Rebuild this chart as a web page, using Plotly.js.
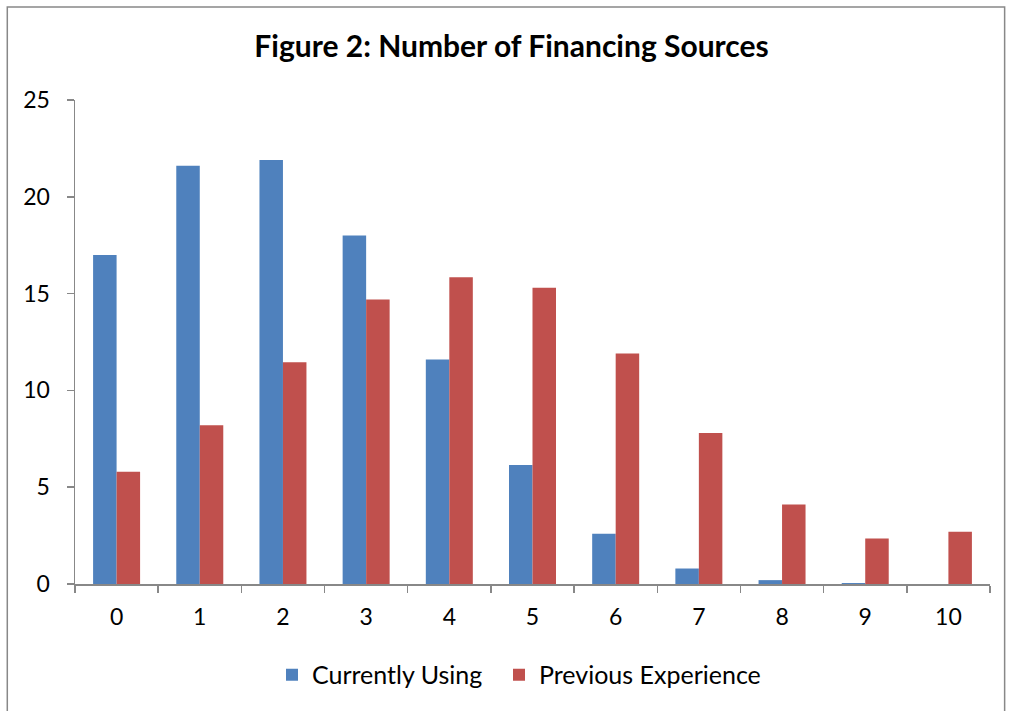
<!DOCTYPE html>
<html>
<head>
<meta charset="utf-8">
<script src="https://cdn.plot.ly/plotly-3.0.1.min.js"></script>
<style>html,body{margin:0;padding:0;background:#fff;}#chart{width:1009px;height:711px;}</style>
</head>
<body>
<div id="chart"></div>
<script>
const categories = ["0","1","2","3","4","5","6","7","8","9","10"];
const currentlyUsing = [17.0, 21.6, 21.9, 18.0, 11.6, 6.15, 2.6, 0.8, 0.2, 0.05, 0];
const previousExperience = [5.8, 8.2, 11.45, 14.7, 15.85, 15.3, 11.9, 7.8, 4.1, 2.35, 2.7];
const yTicks = [0, 5, 10, 15, 20, 25];

const fontFam = "Lato, 'Open Sans', sans-serif";
const traces = [
  {type: "bar", name: "Currently Using", x: categories, y: currentlyUsing,
   marker: {color: "#4F81BD"}, legend: "legend"},
  {type: "bar", name: "Previous Experience", x: categories, y: previousExperience,
   marker: {color: "#C0504D"}, legend: "legend2"}
];
const legendBase = {orientation: "h", xanchor: "left", y: -0.188, yanchor: "middle",
                    font: {size: 25}, itemwidth: 30};
const layout = {
  width: 1009, height: 711,
  margin: {l: 75, r: 19, t: 100, b: 127},
  paper_bgcolor: "#fff", plot_bgcolor: "#fff",
  font: {family: fontFam, color: "#000", size: 23},
  title: {text: "<b>Figure 2: Number of Financing Sources</b>", x: 0.507, xanchor: "center",
          y: 0.934, yanchor: "middle", font: {size: 30, family: fontFam}},
  barmode: "group", bargap: 0.435, bargroupgap: 0,
  xaxis: {type: "category", showline: true, linecolor: "#888", linewidth: 1.5,
          ticks: "outside", tickson: "boundaries", ticklen: 7, tickcolor: "#888", tickwidth: 1.5,
          ticklabelstandoff: 12,
          showgrid: false, zeroline: false, tickfont: {size: 23}},
  yaxis: {range: [0, 25], tickvals: yTicks, showline: true, linecolor: "#888", linewidth: 1.5,
          ticks: "outside", ticklen: 7, tickcolor: "#888", tickwidth: 1.5,
          ticklabelstandoff: 12,
          showgrid: false, zeroline: false, tickfont: {size: 23}},
  showlegend: true,
  legend: Object.assign({}, legendBase, {x: 0.2153}),
  legend2: Object.assign({}, legendBase, {x: 0.4634}),
  shapes: [
    {type: "rect", xref: "paper", yref: "paper", x0: -0.074, x1: 1.016, y0: -0.3, y1: 1.192,
     line: {color: "#888", width: 1.5}, fillcolor: "rgba(0,0,0,0)"}
  ]
};
Plotly.newPlot("chart", traces, layout, {displayModeBar: false, staticPlot: true});
</script>
</body>
</html>
